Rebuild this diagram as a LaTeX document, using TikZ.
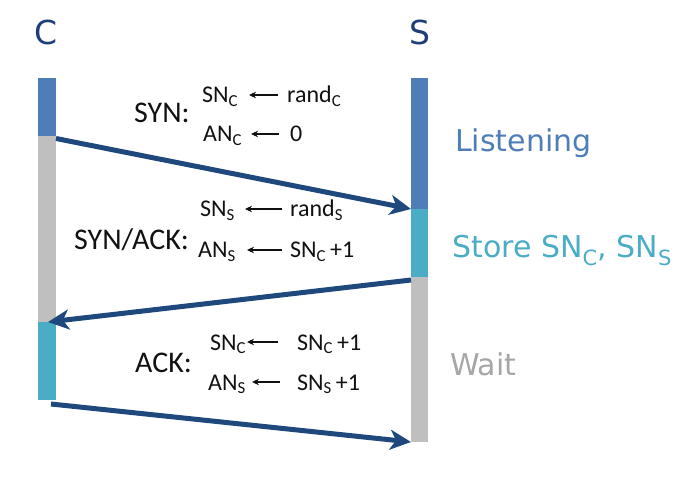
\documentclass[tikz,border=0pt]{standalone}
\usepackage{fontspec}
\setmainfont{Carlito}
\newfontfamily\statefont{DejaVu Sans}
\usetikzlibrary{arrows.meta}
\definecolor{arrblue}{HTML}{1F497D}
\definecolor{navy}{HTML}{1F3E76}
\definecolor{barblue}{HTML}{4F7DB8}
\definecolor{aqua}{HTML}{4BACC6}
\definecolor{lgray}{HTML}{BFBFBF}
\definecolor{waitgray}{HTML}{A6A6A6}
\definecolor{ink}{HTML}{111111}
\begin{document}
\begin{tikzpicture}[x=1pt,y=-1pt,
  bar/.style={draw=none,inner sep=0,outer sep=0},
  cbar/.style={bar,minimum width=18pt},
  sbar/.style={bar,minimum width=17pt},
  msg/.style={line width=5pt,arrblue,-{Stealth[length=21pt,width=20pt,inset=6pt]}},
  eq/.style={font=\fontsize{24}{24}\selectfont,text=ink,inner sep=0,anchor=base west},
  lbl/.style={font=\fontsize{30}{30}\selectfont,text=ink,inner sep=0,anchor=base west},
  small/.style={line width=1.1pt,ink,-{Stealth[length=7pt,width=6.5pt]}},
  state/.style={font=\statefont\fontsize{30}{30}\selectfont,inner sep=0,anchor=base west},
  head/.style={font=\statefont\fontsize{33}{33}\selectfont,text=navy,inner sep=0}]
\useasboundingbox (0,0) rectangle (698,486);
% headers
\node[head] (C) at (46,32) {C};
\node[head] (S) at (419.5,32) {S};
% client bar
\node[cbar,fill=barblue,minimum height=58pt] (cb) at (47,107) {};
\node[cbar,fill=lgray,minimum height=186pt] (cg) at (47,229) {};
\node[cbar,fill=aqua,minimum height=78pt] (ct) at (47,361) {};
% server bar
\node[sbar,fill=barblue,minimum height=131pt] (sb) at (419.5,143.5) {};
\node[sbar,fill=aqua,minimum height=68pt] (st) at (419.5,243) {};
\node[sbar,fill=lgray,minimum height=165pt] (sg) at (419.5,359.5) {};
% messages
\draw[msg] ([yshift=-2.5pt]cb.south east) -- (st.north west);
\draw[msg] ([yshift=-3pt]sg.north west) -- ([xshift=1pt]ct.north);
\draw[msg] ([xshift=4pt,yshift=-4pt]ct.south) -- (sg.south west);
% state labels
\node[state,text=barblue] (listen) at (455,152) {Listening};
\node[state,text=aqua] (store) at (452,258) {Store SN\textsubscript{C}, SN\textsubscript{S}};
\node[state,text=waitgray] (wait) at (450,375) {Wait};
% SYN
\node[lbl] (syn) at (134,123) {SYN:};
\node[eq] (l1) at (202,103) {SN\textsubscript{C}};
\node[eq] (r1) at (287,103) {rand\textsubscript{C}};
\node[eq] (l2) at (203,142) {AN\textsubscript{C}};
\node[eq] (r2) at (290,142) {0};
\coordinate (a1r) at (278,95); \coordinate (a1l) at (249,95);
\coordinate (a2r) at (279,134); \coordinate (a2l) at (251,134);
\draw[small] (a1r) -- (a1l);
\draw[small] (a2r) -- (a2l);
% SYN/ACK
\node[lbl] (synack) at (74,249) {SYN/ACK:};
\node[eq] (l3) at (200,217) {SN\textsubscript{S}};
\node[eq] (r3) at (290,217) {rand\textsubscript{S}};
\node[eq] (l4) at (198,258) {AN\textsubscript{S}};
\node[eq] (r4) at (290,258) {SN\textsubscript{C}\,+1};
\coordinate (a3r) at (282,209); \coordinate (a3l) at (245,209);
\coordinate (a4r) at (282,250); \coordinate (a4l) at (247,250);
\draw[small] (a3r) -- (a3l);
\draw[small] (a4r) -- (a4l);
% ACK
\node[lbl] (ack) at (135,372) {ACK:};
\node[eq] (l5) at (210,350) {SN\textsubscript{C}};
\node[eq] (r5) at (297,350) {SN\textsubscript{C}\,+1};
\node[eq] (l6) at (208,390) {AN\textsubscript{S}};
\node[eq] (r6) at (297,390) {SN\textsubscript{S}\,+1};
\coordinate (a5r) at (278,342); \coordinate (a5l) at (247,342);
\coordinate (a6r) at (280,382); \coordinate (a6l) at (252,382);
\draw[small] (a5r) -- (a5l);
\draw[small] (a6r) -- (a6l);
\end{tikzpicture}
\end{document}
